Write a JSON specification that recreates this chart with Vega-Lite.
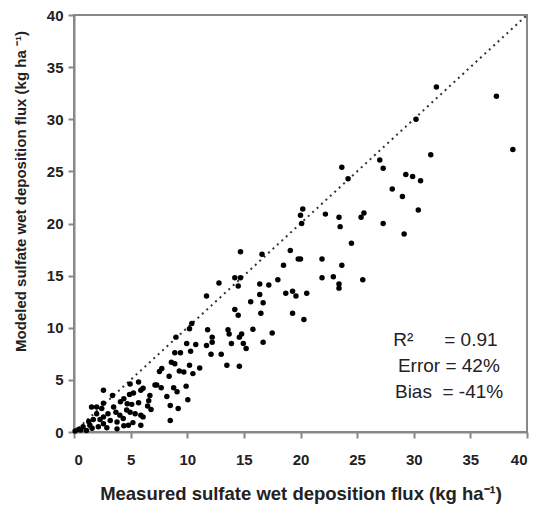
{
  "$schema": "https://vega.github.io/schema/vega-lite/v6.json",
  "width": 453,
  "height": 417,
  "autosize": {"type": "none"},
  "padding": {"left": 74, "top": 15, "right": 14, "bottom": 75},
  "background": "white",
  "config": {
    "view": {"stroke": "#888888", "strokeWidth": 2},
    "font": "Liberation Sans"
  },
  "layer": [
    {
      "data": {"values": [{"x": 0, "y": 0}, {"x": 40, "y": 40}]},
      "mark": {"type": "line", "strokeDash": [2, 4], "strokeWidth": 2, "color": "#333333"},
      "encoding": {
        "x": {
          "field": "x", "type": "quantitative",
          "scale": {"domain": [0, 40], "nice": false, "zero": true},
          "axis": {
            "values": [0, 5, 10, 15, 20, 25, 30, 35, 40],
            "grid": false,
            "domainColor": "#888888", "domainWidth": 2,
            "tickColor": "#888888", "tickWidth": 2, "tickSize": 6,
            "labelFont": "Liberation Sans", "labelFontWeight": "bold", "labelFontSize": 15,
            "labelColor": "#222222", "labelPadding": 14,
            "title": "Measured sulfate wet deposition flux (kg ha\u207b\u00b9)",
            "titleFont": "Liberation Sans", "titleFontWeight": "bold", "titleColor": "#222222",
            "titleFontSize": 18.5, "titleY": 61, "titleBaseline": "middle"
          }
        },
        "y": {
          "field": "y", "type": "quantitative",
          "scale": {"domain": [0, 40], "nice": false, "zero": true},
          "axis": {
            "values": [0, 5, 10, 15, 20, 25, 30, 35, 40],
            "grid": false,
            "domainColor": "#888888", "domainWidth": 2,
            "tickColor": "#888888", "tickWidth": 2, "tickSize": 6,
            "labelFont": "Liberation Sans", "labelFontWeight": "bold", "labelFontSize": 15,
            "labelColor": "#222222", "labelPadding": 5,
            "title": "Modeled sulfate wet deposition flux (kg ha \u207b\u00b9)",
            "titleFont": "Liberation Sans", "titleFontWeight": "bold", "titleColor": "#222222",
            "titleFontSize": 15, "titleX": -54, "titleY": 176, "titleBaseline": "middle"
          }
        }
      }
    },
    {
      "data": {"values": [
        {"x":32.0,"y":33.1},{"x":37.3,"y":32.2},{"x":30.2,"y":30.0},{"x":31.5,"y":26.6},{"x":38.75,"y":27.1},
        {"x":29.3,"y":24.7},{"x":29.9,"y":24.5},{"x":30.6,"y":24.1},{"x":29.0,"y":22.6},{"x":30.4,"y":21.3},
        {"x":29.15,"y":19.0},{"x":23.65,"y":25.4},{"x":24.2,"y":24.3},{"x":27.0,"y":26.1},{"x":27.3,"y":25.3},
        {"x":28.1,"y":23.3},{"x":20.2,"y":21.4},{"x":20.0,"y":20.8},{"x":20.1,"y":20.0},{"x":22.2,"y":20.9},
        {"x":23.4,"y":20.6},{"x":23.5,"y":19.7},{"x":25.6,"y":21.0},{"x":25.35,"y":20.6},{"x":27.3,"y":20.0},
        {"x":24.5,"y":18.1},{"x":20.0,"y":16.6},{"x":21.9,"y":16.6},{"x":23.65,"y":16.0},{"x":21.9,"y":14.8},
        {"x":22.9,"y":14.9},{"x":23.4,"y":14.2},{"x":23.4,"y":13.8},{"x":25.5,"y":14.6},{"x":20.55,"y":13.3},
        {"x":20.3,"y":10.8},{"x":14.7,"y":17.3},{"x":16.6,"y":17.05},{"x":19.1,"y":17.4},{"x":19.8,"y":16.6},
        {"x":18.5,"y":16.0},{"x":18.0,"y":14.6},{"x":14.2,"y":14.8},{"x":14.7,"y":14.8},{"x":12.8,"y":14.3},
        {"x":14.5,"y":14.0},{"x":16.4,"y":14.2},{"x":17.2,"y":14.1},{"x":11.7,"y":13.05},{"x":16.4,"y":13.2},
        {"x":18.7,"y":13.3},{"x":19.3,"y":13.5},{"x":19.6,"y":13.05},{"x":15.6,"y":12.5},{"x":16.7,"y":12.4},
        {"x":14.2,"y":11.75},{"x":14.5,"y":11.2},{"x":16.5,"y":11.4},{"x":19.3,"y":11.4},{"x":11.8,"y":9.8},
        {"x":12.2,"y":9.1},{"x":13.6,"y":9.8},{"x":14.8,"y":9.4},{"x":14.6,"y":9.1},{"x":15.8,"y":9.85},
        {"x":17.5,"y":9.5},{"x":10.4,"y":10.4},{"x":10.2,"y":9.9},{"x":13.7,"y":9.4},{"x":9.0,"y":9.1},
        {"x":9.95,"y":8.5},{"x":10.75,"y":8.4},{"x":11.7,"y":8.3},{"x":12.2,"y":8.6},{"x":13.9,"y":8.5},
        {"x":14.95,"y":8.5},{"x":15.2,"y":8.0},{"x":16.7,"y":8.6},{"x":8.9,"y":7.6},{"x":9.4,"y":7.6},
        {"x":10.3,"y":7.75},{"x":12.1,"y":7.45},{"x":13.0,"y":7.45},{"x":8.6,"y":6.7},{"x":8.9,"y":6.55},
        {"x":10.2,"y":6.4},{"x":11.1,"y":6.15},{"x":9.3,"y":5.85},{"x":9.7,"y":5.75},{"x":10.5,"y":5.6},
        {"x":13.5,"y":6.4},{"x":14.6,"y":6.3},{"x":7.75,"y":6.1},{"x":7.55,"y":5.8},{"x":8.4,"y":5.35},
        {"x":5.7,"y":4.8},{"x":7.15,"y":4.5},{"x":7.7,"y":4.25},{"x":8.8,"y":4.25},{"x":9.9,"y":4.4},
        {"x":6.1,"y":4.2},{"x":2.6,"y":4.0},{"x":3.4,"y":3.5},{"x":4.95,"y":4.6},{"x":4.9,"y":3.6},
        {"x":5.25,"y":3.75},{"x":5.9,"y":4.0},{"x":6.7,"y":3.5},{"x":4.7,"y":2.7},{"x":5.1,"y":2.65},
        {"x":5.7,"y":2.8},{"x":6.5,"y":2.5},{"x":6.8,"y":2.15},{"x":5.9,"y":1.6},{"x":6.1,"y":1.45},
        {"x":5.9,"y":0.65},{"x":3.5,"y":2.4},{"x":3.7,"y":1.9},{"x":4.05,"y":1.6},{"x":4.35,"y":1.3},
        {"x":3.0,"y":1.75},{"x":2.6,"y":1.45},{"x":2.0,"y":1.75},{"x":1.7,"y":1.2},{"x":3.2,"y":1.1},
        {"x":3.8,"y":0.95},{"x":2.6,"y":0.8},{"x":1.4,"y":0.65},{"x":0.8,"y":0.5},{"x":0.4,"y":0.25},
        {"x":2.15,"y":0.5},{"x":3.8,"y":0.3},{"x":1.1,"y":0.15},{"x":2.45,"y":2.25},{"x":4.95,"y":1.9},
        {"x":5.4,"y":1.75},{"x":4.65,"y":2.1},{"x":1.55,"y":2.4},{"x":8.5,"y":2.55},{"x":9.2,"y":2.25},
        {"x":8.5,"y":1.1},{"x":10.05,"y":3.1},{"x":9.1,"y":3.85},{"x":8.2,"y":3.4},{"x":6.6,"y":3.0},
        {"x":4.8,"y":0.65},{"x":7.3,"y":4.5},{"x":0.1,"y":0.1},{"x":0.6,"y":0.2},{"x":1.6,"y":0.35},
        {"x":2.9,"y":0.4},{"x":1.3,"y":1.0},{"x":2.3,"y":1.2},{"x":4.4,"y":0.6},{"x":5.2,"y":0.9},
        {"x":2.6,"y":2.75},{"x":2.0,"y":2.4},{"x":4.1,"y":2.9},{"x":4.4,"y":3.2}
      ]},
      "mark": {"type": "circle", "size": 30, "color": "#000000", "opacity": 1},
      "encoding": {
        "x": {"field": "x", "type": "quantitative"},
        "y": {"field": "y", "type": "quantitative"}
      }
    },
    {
      "data": {"values": [{"label": "R\u00b2", "x": 28.2, "y": 8.8}]},
      "mark": {"type": "text", "align": "left", "baseline": "middle", "fontSize": 19, "color": "#222222", "font": "Liberation Sans"},
      "encoding": {
        "x": {"field": "x", "type": "quantitative"},
        "y": {"field": "y", "type": "quantitative"},
        "text": {"field": "label"}
      }
    },
    {
      "data": {"values": [
        {"label": "= 0.91", "x": 37.4, "y": 8.8},
        {"label": "Error = 42%", "x": 37.6, "y": 6.3},
        {"label": "Bias \u00a0= -41%", "x": 37.9, "y": 3.8}
      ]},
      "mark": {"type": "text", "align": "right", "baseline": "middle", "fontSize": 19, "color": "#222222", "font": "Liberation Sans"},
      "encoding": {
        "x": {"field": "x", "type": "quantitative"},
        "y": {"field": "y", "type": "quantitative"},
        "text": {"field": "label"}
      }
    }
  ]
}
